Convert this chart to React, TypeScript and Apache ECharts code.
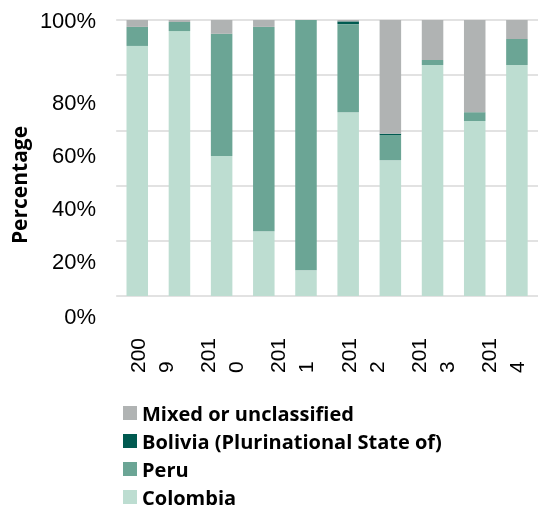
import React, { useEffect, useRef } from "react";
import * as echarts from "echarts";

const barSlots = ["1", "2", "3", "4", "5", "6", "7", "8", "9", "10"];
const tickLabels = ["2009", "2010", "2011", "2012", "2013", "2014"];
const yTicks = [0, 20, 40, 60, 80, 100];

const colombia = [90.6, 96.0, 50.7, 23.5, 9.3, 66.6, 49.2, 83.7, 63.4, 83.7];
const peru = [6.9, 3.3, 44.3, 74.0, 90.7, 31.9, 9.1, 1.8, 3.2, 9.4];
const bolivia = [0, 0, 0, 0, 0, 1.0, 0.5, 0, 0, 0];
const mixed = [2.5, 0.7, 5.0, 2.5, 0, 0.5, 41.2, 14.5, 33.4, 6.9];

const seriesNames = ["Colombia", "Peru", "Bolivia (Plurinational State of)", "Mixed or unclassified"];
const legendOrder = ["Mixed or unclassified", "Bolivia (Plurinational State of)", "Peru", "Colombia"];
const colors = ["#BDDDD1", "#6BA595", "#005A50", "#B0B3B3"];

// label vertical shifts (px) relative to gridlines
const yLabelShift: Record<number, number> = { 0: 20, 20: 21, 40: 23, 60: 25, 80: 27, 100: 0 };

const ARIAL = "'Liberation Sans', Arial, sans-serif";
const BOLD = "'Open Sans', sans-serif";

export default function App() {
  const ref = useRef<HTMLDivElement>(null);
  useEffect(() => {
    if (!ref.current) return;
    const chart = echarts.init(ref.current, null, { renderer: "svg" });
    const rich: Record<string, any> = {};
    yTicks.forEach((t) => {
      rich["s" + t] = {
        fontFamily: ARIAL,
        fontSize: 22,
        color: "#000",
        padding: [yLabelShift[t] * 2, 0, 0, 0],
      };
    });
    const values = [colombia, peru, bolivia, mixed];
    chart.setOption({
      animation: false,
      grid: { left: 111.5, right: -3, top: 20, bottom: 213, containLabel: false },
      legend: {
        orient: "vertical",
        left: 118,
        top: 398,
        height: 200,
        data: legendOrder,
        icon: "rect",
        itemWidth: 14,
        itemHeight: 14,
        itemGap: 8,
        textStyle: {
          fontFamily: BOLD,
          fontWeight: "bold",
          fontSize: 20,
          lineHeight: 20,
          color: "#000",
        },
      },
      xAxis: [
        {
          type: "category",
          data: barSlots,
          axisLine: { show: false },
          axisTick: { show: false },
          axisLabel: { show: false },
          splitLine: { show: false },
        },
        {
          type: "category",
          data: tickLabels,
          position: "bottom",
          axisLine: { show: false },
          axisTick: { show: false },
          splitLine: { show: false },
          axisLabel: {
            rotate: 90,
            align: "left",
            verticalAlign: "middle",
            margin: 77,
            interval: 0,
            fontFamily: ARIAL,
            fontSize: 21,
            lineHeight: 28,
            color: "#000",
            formatter: (v: string) => `${v.slice(0, 3)}\n${v.slice(3)}`,
          },
        },
      ],
      yAxis: {
        type: "value",
        min: 0,
        max: 100,
        interval: 20,
        name: "Percentage",
        nameLocation: "middle",
        nameGap: 80,
        nameTextStyle: {
          fontFamily: BOLD,
          fontWeight: "bold",
          fontSize: 21,
          color: "#000",
          padding: [0, 54, 0, 0],
        },
        axisLine: { show: false },
        axisTick: { show: false },
        splitLine: { show: true, lineStyle: { color: "#D9D9D9", width: 1.5 } },
        axisLabel: {
          margin: 20,
          fontFamily: ARIAL,
          fontSize: 22,
          formatter: (v: number) => `{s${v}|${v}%}`,
          rich,
        },
      },
      series: seriesNames.map((name, i) => ({
        name,
        type: "bar",
        stack: "total",
        xAxisIndex: 0,
        barWidth: "51%",
        itemStyle: { color: colors[i] },
        data: values[i],
      })),
    });
    return () => chart.dispose();
  }, []);
  return <div ref={ref} style={{ position: "fixed", left: 0, top: 0, width: 538, height: 509 }} />;
}
